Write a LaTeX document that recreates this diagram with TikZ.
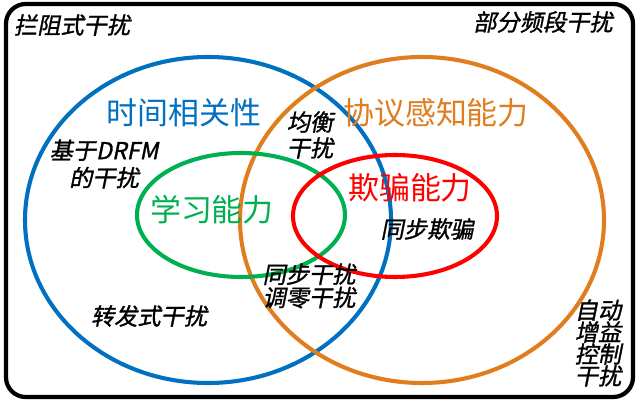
\documentclass[tikz,border=0pt]{standalone}
\usepackage{fontspec}
\newfontfamily\cjk{Noto Sans CJK SC}
\newfontfamily\cjkit[FakeSlant=0.2,FakeBold=1.2]{Noto Sans CJK SC}
\usetikzlibrary{positioning}

\definecolor{timeblue}{RGB}{0,112,192}
\definecolor{protoorange}{RGB}{224,125,30}
\definecolor{learngreen}{RGB}{0,176,80}
\definecolor{deceivered}{RGB}{255,0,0}

\begin{document}
\begin{tikzpicture}[
  x=0.025cm,y=-0.025cm,
  font=\cjk,
  set/.style={line width=2.9pt},
  frame/.style={draw,line width=3pt,rounded corners=14pt},
  settitle/.style={font=\cjk\fontsize{22}{24}\selectfont,inner sep=0pt},
  jam/.style={font=\cjkit\fontsize{16.5}{18.5}\selectfont,align=center,inner sep=0pt}
]
  \useasboundingbox (0,0) rectangle (640,405);
  \draw[frame] (6,4) rectangle (633,397);

  % the four sets
  \draw[set,timeblue] (208,220) ellipse [x radius=183, y radius=163];
  \draw[set,protoorange] (422,220) ellipse [x radius=182, y radius=163];
  \draw[set,learngreen] (241,215) ellipse [x radius=104, y radius=62];
  \draw[set,deceivered] (395,216) ellipse [x radius=102, y radius=61];

  \node[settitle,text=timeblue] (timecorr) at (184,113) {时间相关性};
  \node[settitle,text=protoorange] (protoaware) at (436,113) {协议感知能力};
  \node[settitle,text=learngreen] (learning) at (212,210) {学习能力};
  \node[settitle,text=deceivered] (deception) at (410,188) {欺骗能力};

  % jamming types
  \node[jam] (barrage) at (72,25) {拦阻式干扰};
  \node[jam] (partband) at (543,22) {部分频段干扰};
  \node[jam] (balanced) at (310,135) {均衡\\干扰};
  \node[jam,font=\cjkit\fontsize{16.5}{19.5}\selectfont] (drfm) at (104,164) {基于DRFM\\的干扰};
  \node[jam] (syncdecoy) at (427,229) {同步欺骗};
  \node[jam,font=\cjkit\fontsize{16.5}{16.5}\selectfont] (syncnull) at (309,286) {同步干扰\\调零干扰};
  \node[jam] (repeater) at (149,316) {转发式干扰};
  \node[jam,font=\cjkit\fontsize{16.5}{15.6}\selectfont] (agc) at (598,343) {自动\\增益\\控制\\干扰};
\end{tikzpicture}
\end{document}
